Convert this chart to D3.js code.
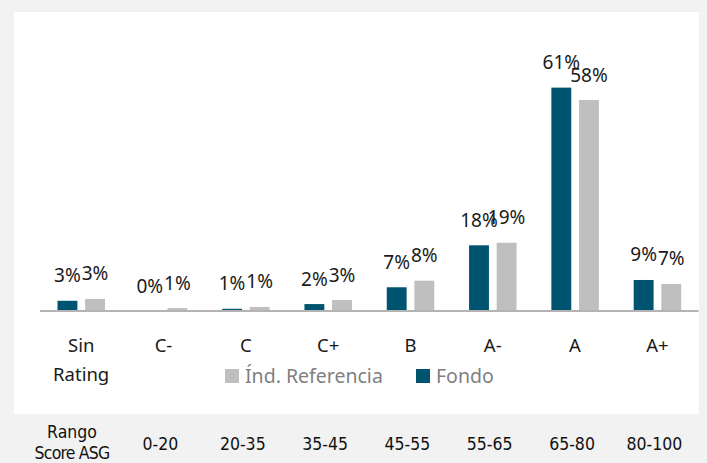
<!DOCTYPE html>
<html>
<head>
<meta charset="utf-8">
<script src="https://cdn.jsdelivr.net/npm/d3@7"></script>
<style>
  body { margin: 0; background: #f2f2f2; }
  svg { display: block; }
</style>
</head>
<body>
<svg id="chart" width="707" height="463"></svg>
<script>
// categories and series
var categories = ["Sin Rating", "C-", "C", "C+", "B", "A-", "A", "A+"];
var ranges = ["0-20", "20-35", "35-45", "45-55", "55-65", "65-80", "80-100"];
var series = ["Fondo", "Índ. Referencia"];
var fondo = [2.8, 0, 0.6, 1.9, 6.5, 18.0, 61.2, 8.5];
var referencia = [3.3, 0.8, 1.1, 3.0, 8.3, 18.7, 57.8, 7.4];

var colors = {"Fondo": "#00546f", "Índ. Referencia": "#bfbfbf"};
var font = "'Noto Sans', 'Open Sans', sans-serif";

var svg = d3.select("#chart"),
    width = +svg.attr("width"),
    height = +svg.attr("height"),
    base = 311;

// white panel
svg.append("rect")
    .attr("x", 14).attr("y", 12)
    .attr("width", 685).attr("height", 402)
    .attr("fill", "#ffffff");

var x0 = d3.scaleBand()
    .domain(categories)
    .range([40, 698.5]);

var x1 = d3.scaleBand()
    .domain(series)
    .range([17.5, 65])
    .paddingInner(0.28);

var y = d3.scaleLinear()
    .domain([0, 65])
    .range([base, base - 65 * 3.65]);

var rows = categories.map(function (c, i) {
    return {cat: c, vals: [{s: "Fondo", v: fondo[i]}, {s: "Índ. Referencia", v: referencia[i]}]};
});

var groups = svg.append("g").selectAll("g")
    .data(rows)
    .enter().append("g")
    .attr("transform", function (d) { return "translate(" + x0(d.cat) + ",0)"; });

groups.selectAll("rect")
    .data(function (d) { return d.vals; })
    .enter().append("rect")
    .attr("x", function (d) { return x1(d.s); })
    .attr("width", x1.bandwidth())
    .attr("y", function (d) { return y(d.v); })
    .attr("height", function (d) { return base - y(d.v); })
    .attr("fill", function (d) { return colors[d.s]; });

// value labels
groups.selectAll("text")
    .data(function (d) { return d.vals; })
    .enter().append("text")
    .attr("x", function (d) { return x1(d.s) + x1.bandwidth() / 2; })
    .attr("y", function (d) { return y(d.v) - 18.5; })
    .attr("text-anchor", "middle")
    .attr("font-family", font)
    .attr("font-size", 19)
    .attr("fill", "#1a1a1a")
    .text(function (d) { return Math.round(d.v) + "%"; });

// baseline
svg.append("line")
    .attr("x1", 40).attr("x2", 698.5)
    .attr("y1", base).attr("y2", base)
    .attr("stroke", "#b3b3b3")
    .attr("stroke-width", 2);

// category labels
var catLabels = svg.append("g").selectAll("text")
    .data(categories)
    .enter().append("text")
    .attr("x", function (d) { return x0(d) + x0.bandwidth() / 2; })
    .attr("y", 352)
    .attr("text-anchor", "middle")
    .attr("font-family", font)
    .attr("font-size", 18.5)
    .attr("fill", "#1a1a1a");

catLabels.each(function (d) {
    var words = d.split(" ");
    var t = d3.select(this);
    words.forEach(function (w, i) {
        t.append("tspan")
            .attr("x", x0(d) + x0.bandwidth() / 2)
            .attr("dy", i == 0 ? 0 : 29)
            .text(w);
    });
});

// legend
var legend = [
    {s: "Índ. Referencia", x: 225},
    {s: "Fondo", x: 416}
];
var lg = svg.append("g").selectAll("g")
    .data(legend)
    .enter().append("g")
    .attr("transform", function (d) { return "translate(" + d.x + ",369)"; });
lg.append("rect")
    .attr("width", 14).attr("height", 14)
    .attr("fill", function (d) { return colors[d.s]; });
lg.append("text")
    .attr("x", 20).attr("y", 14)
    .attr("font-family", font)
    .attr("font-size", 19.5)
    .attr("fill", "#7f7f7f")
    .text(function (d) { return d.s; });

// bottom row: score ranges
var condensed = "'DejaVu Sans Condensed', 'Liberation Sans Narrow', 'Roboto Condensed', sans-serif";
var head = svg.append("text")
    .attr("text-anchor", "middle")
    .attr("font-family", condensed)
    .attr("font-size", 17.5)
    .attr("fill", "#111");
head.append("tspan").attr("x", 72).attr("y", 438).text("Rango");
head.append("tspan").attr("x", 72).attr("y", 459).attr("letter-spacing", -0.8).text("Score ASG");

svg.append("g").selectAll("text")
    .data(ranges)
    .enter().append("text")
    .attr("x", function (d, i) { return x0(categories[i + 1]) + x0.bandwidth() / 2 - 3; })
    .attr("y", 450)
    .attr("text-anchor", "middle")
    .attr("font-family", condensed)
    .attr("font-size", 17.5)
    .attr("fill", "#111")
    .text(function (d) { return d; });
</script>
</body>
</html>
